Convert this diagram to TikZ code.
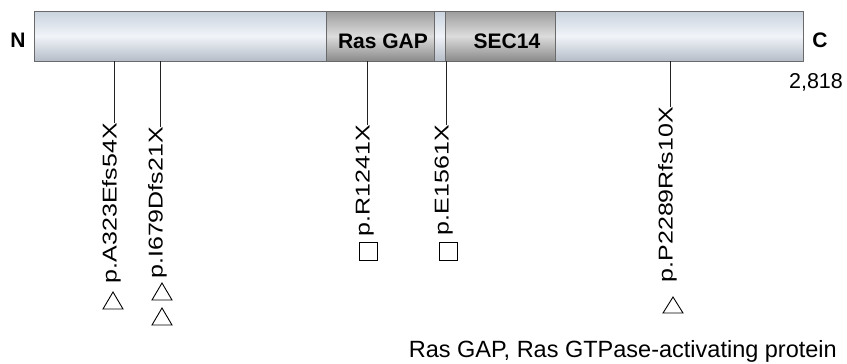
\documentclass[tikz,border=0pt]{standalone}
\usepackage{fontspec}
\setmainfont{Liberation Sans}
\usepackage{graphicx}
\definecolor{barEdge}{HTML}{C9D2DE}
\definecolor{barMid}{HTML}{F1F4F9}
\definecolor{domTop}{HTML}{9C9C9C}
\definecolor{domMid}{HTML}{DCDCDC}
\definecolor{domBot}{HTML}{8A8A8A}
\definecolor{frame}{HTML}{6A6A6A}
\definecolor{stem}{HTML}{222222}
\tikzset{
  barbox/.style={draw=frame, line width=0.9pt, top color=barEdge, bottom color=barEdge!90!black, middle color=barMid},
  dombox/.style={draw=frame, line width=0.9pt, top color=domTop, bottom color=domBot, middle color=domMid},
  domlabel/.style={font=\bfseries\fontsize{21}{24}\selectfont, inner sep=0pt},
  endlabel/.style={font=\bfseries\fontsize{21}{24}\selectfont, inner sep=0pt},
  mutlabel/.style={font=\fontsize{25}{28}\selectfont, rotate=90, anchor=mid east, inner sep=0pt},
  stemline/.style={draw=stem, line width=0.9pt},
  symb/.style={draw=black, line width=0.9pt, line join=miter}
}
\newcommand{\mutt}[1]{\scalebox{1}[0.8]{#1}}
\begin{document}
\begin{tikzpicture}[x=1pt,y=-1pt]
\useasboundingbox (0,0) rectangle (847,364);
% protein bar
\path[barbox] (34,11) rectangle (803,61);
\path[dombox] (326,11) rectangle (434,61);
\path[dombox] (445,11) rectangle (555,61);
\node[domlabel] (rasgap) at (383,41) {Ras GAP};
\node[domlabel] (sec14) at (507,41) {SEC14};
\node[endlabel] (nterm) at (18,40) {N};
\node[endlabel] (cterm) at (820,40) {C};
\node[font=\fontsize{21.5}{24}\selectfont, inner sep=0pt] (len) at (816,82) {2,818};
% mutation sites on the bar
\coordinate (m1) at (114,61);
\coordinate (m2) at (160,61);
\coordinate (m3) at (367,61);
\coordinate (m4) at (446,61);
\coordinate (m5) at (670,61);
% labels
\node[mutlabel] (l1) at (114,123) {\mutt{p.A323Efs54X}};
\node[mutlabel] (l2) at (160,127) {\mutt{p.I679Dfs21X}};
\node[mutlabel] (l3) at (367,125) {\mutt{p.R1241X}};
\node[mutlabel] (l4) at (446,125) {\mutt{p.E1561X}};
\node[mutlabel] (l5) at (670,107) {\mutt{p.P2289Rfs10X}};
\draw[stemline] (m1) -- (l1.mid east);
\draw[stemline] (m2) -- (l2.mid east);
\draw[stemline] (m3) -- (l3.mid east);
\draw[stemline] (m4) -- (l4.mid east);
\draw[stemline] (m5) -- (l5.mid east);
% symbols
\draw[symb] (113,292) -- (123,309) -- (103,309) -- cycle;
\draw[symb] (162,283) -- (172,300) -- (152,300) -- cycle;
\draw[symb] (162,308) -- (172,325) -- (152,325) -- cycle;
\draw[symb] (673,297) -- (683,313) -- (663,313) -- cycle;
\draw[symb] (359,242) rectangle (377,260);
\draw[symb] (439,242) rectangle (457,260);
% legend
\node[font=\fontsize{23.5}{26}\selectfont, inner sep=0pt, anchor=base east] (legend) at (837,357) {Ras GAP, Ras GTPase-activating protein};
\end{tikzpicture}
\end{document}
